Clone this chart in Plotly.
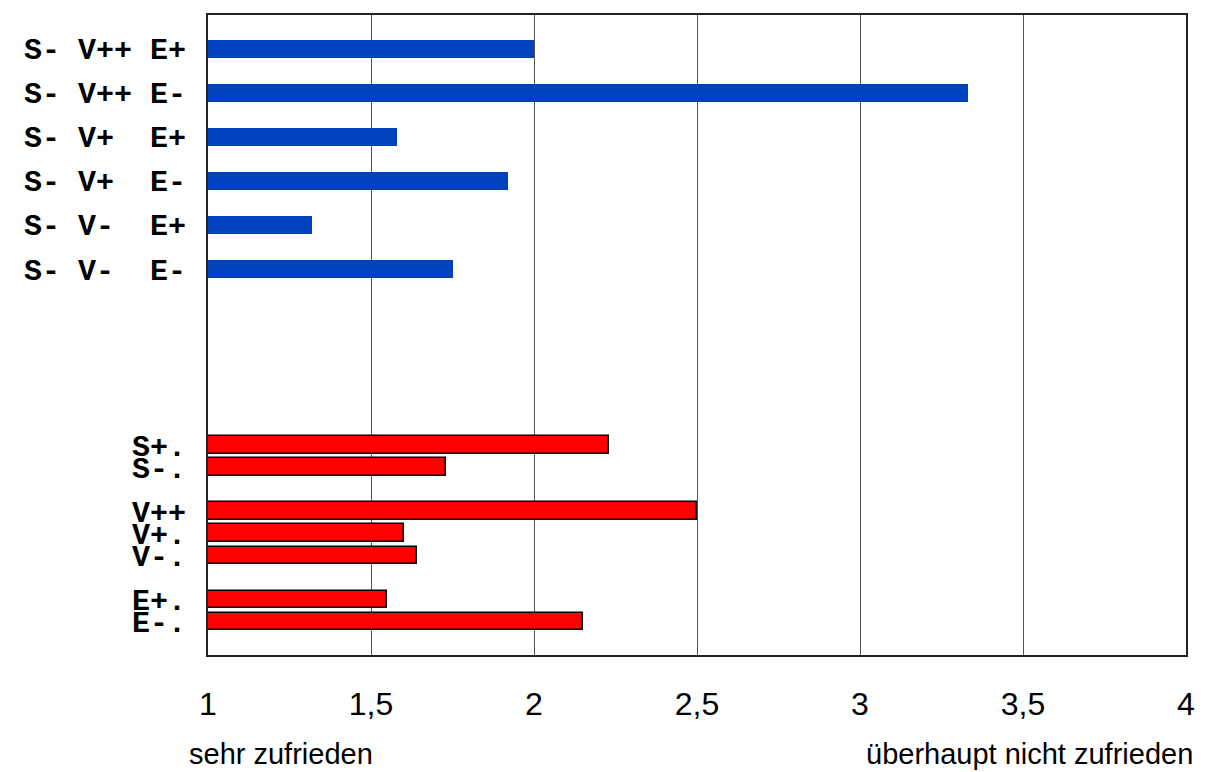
import plotly.graph_objects as go

# ---- data ----
blue_labels = ["S- V++ E+", "S- V++ E-", "S- V+  E+", "S- V+  E-", "S- V-  E+", "S- V-  E-"]
blue_values = [2.00, 3.33, 1.58, 1.92, 1.32, 1.75]

red_labels = ["S+.", "S-.", "V++", "V+.", "V-.", "E+.", "E-."]
red_values = [2.23, 1.73, 2.50, 1.60, 1.64, 1.55, 2.15]

x_ticks = [1, 1.5, 2, 2.5, 3, 3.5, 4]
x_ticktext = ["1", "1,5", "2", "2,5", "3", "3,5", "4"]

# ---- row layout (None = empty row) ----
rows = []
for lab in blue_labels:
    rows += [lab, None]
rows = rows[:-1] + [None] * 7
rows += ["S+.", "S-.", None, "V++", "V+.", "V-.", None, "E+.", "E-."]

pos = {lab: i for i, lab in enumerate(rows) if lab is not None}
nb = lambda s: s.replace(" ", "\u00a0")

fig = go.Figure()
fig.add_trace(go.Bar(
    y=[pos[l] for l in blue_labels], x=blue_values, orientation="h",
    marker=dict(color="#0041BE", line=dict(width=0)), width=0.81,
    name="S-", showlegend=False))
fig.add_trace(go.Bar(
    y=[pos[l] for l in red_labels], x=red_values, orientation="h",
    marker=dict(color="#FF0000", line=dict(color="#000000", width=1.5)), width=0.81,
    name="single", showlegend=False))

tickvals = [pos[l] for l in blue_labels + red_labels]
ticktext = [nb(l) for l in blue_labels + red_labels]

# page offset of the figure (body margin) is 8 px
L, R, T, B = 200, 21, 5, 117
W, H = 1199, 764
pw, ph = W - L - R, H - T - B


def px2paper(x, y):
    return (x - 8 - L) / pw, (H - B - (y - 8)) / ph


ann_font = dict(family="Arial, Liberation Sans, sans-serif", size=29, color="black")
tick_font = dict(family="Arial, Liberation Sans, sans-serif", size=32, color="black")
x1, y1 = px2paper(187, 754)
x2, y2 = px2paper(1195, 754)

fig.update_layout(
    width=W, height=H,
    margin=dict(l=L, r=R, t=T, b=B),
    paper_bgcolor="white", plot_bgcolor="white",
    bargap=0,
    xaxis=dict(range=[1, 4], tickvals=x_ticks, ticktext=x_ticktext,
               showgrid=True, gridcolor="#555555", gridwidth=1,
               showline=True, linecolor="#222222", linewidth=2, mirror=True,
               zeroline=False, ticks="", ticklabelstandoff=20,
               tickfont=tick_font),
    yaxis=dict(range=[27.52, -1.53], tickvals=tickvals, ticktext=ticktext,
               showgrid=False, zeroline=False,
               showline=True, linecolor="#222222", linewidth=2, mirror=True,
               ticks="", ticklabelstandoff=14,
               tickfont=dict(family="Courier New, Liberation Mono, monospace", size=30,
                             color="black", weight="bold")),
    annotations=[
        dict(text="sehr zufrieden", x=x1, y=y1, xref="paper", yref="paper",
             showarrow=False, xanchor="left", yanchor="middle", font=ann_font),
        dict(text="überhaupt nicht zufrieden", x=x2, y=y2, xref="paper", yref="paper",
             showarrow=False, xanchor="right", yanchor="middle", font=ann_font),
    ],
)

fig.write_html("out.html")
